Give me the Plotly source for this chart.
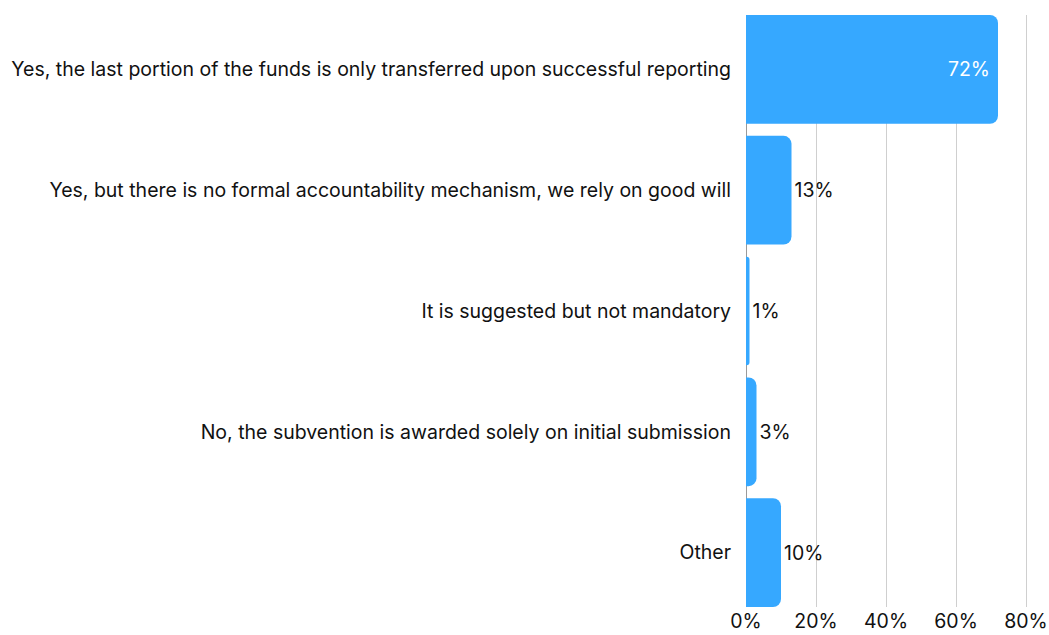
import plotly.graph_objects as go

# Survey answers and the share of respondents choosing each one
categories = [
    "Yes, the last portion of the funds is only transferred upon successful reporting",
    "Yes, but there is no formal accountability mechanism, we rely on good will",
    "It is suggested but not mandatory",
    "No, the subvention is awarded solely on initial submission",
    "Other",
]
shares = [72, 13, 1, 3, 10]
tick_values = [0, 20, 40, 60, 80]
tick_labels = ["0%", "20%", "40%", "60%", "80%"]

positions = list(range(len(categories)))
FONT = "Inter, Roboto, sans-serif"
SIZE = 19.5

# Only the long bar carries its label inside; the rest sit just past the bar end
text_positions = ["inside" if v > 50 else "outside" for v in shares]

fig = go.Figure(
    go.Bar(
        x=shares,
        y=positions,
        orientation="h",
        width=0.9,
        marker=dict(color="#36a8ff", line=dict(width=0), cornerradius=8),
        text=[f"{v}%" for v in shares],
        textposition=text_positions,
        textangle=0,
        insidetextanchor="end",
        insidetextfont=dict(color="white", size=SIZE, family=FONT),
        outsidetextfont=dict(color="#111111", size=SIZE, family=FONT),
        cliponaxis=False,
        hoverinfo="skip",
    )
)

fig.update_layout(
    width=1049,
    height=635,
    margin=dict(l=746, r=2, t=15, b=28),
    paper_bgcolor="white",
    plot_bgcolor="white",
    font=dict(family=FONT, size=SIZE, color="#111111"),
    showlegend=False,
)

fig.update_xaxes(
    range=[0, 86],
    tickvals=tick_values,
    ticktext=tick_labels,
    showgrid=True,
    gridcolor="#cfcfcf",
    gridwidth=1,
    zeroline=True,
    zerolinecolor="#9a9a9a",
    zerolinewidth=1,
    showline=False,
    ticks="",
    tickfont=dict(size=SIZE, color="#111111"),
    fixedrange=True,
)

fig.update_yaxes(
    range=[len(categories) - 0.55, -0.45],
    tickvals=positions,
    ticktext=categories,
    showgrid=False,
    zeroline=False,
    showline=False,
    ticks="",
    ticklabelstandoff=14,
    tickfont=dict(size=SIZE, color="#111111"),
    fixedrange=True,
)

fig.write_html("out.html", config={"displayModeBar": False})
